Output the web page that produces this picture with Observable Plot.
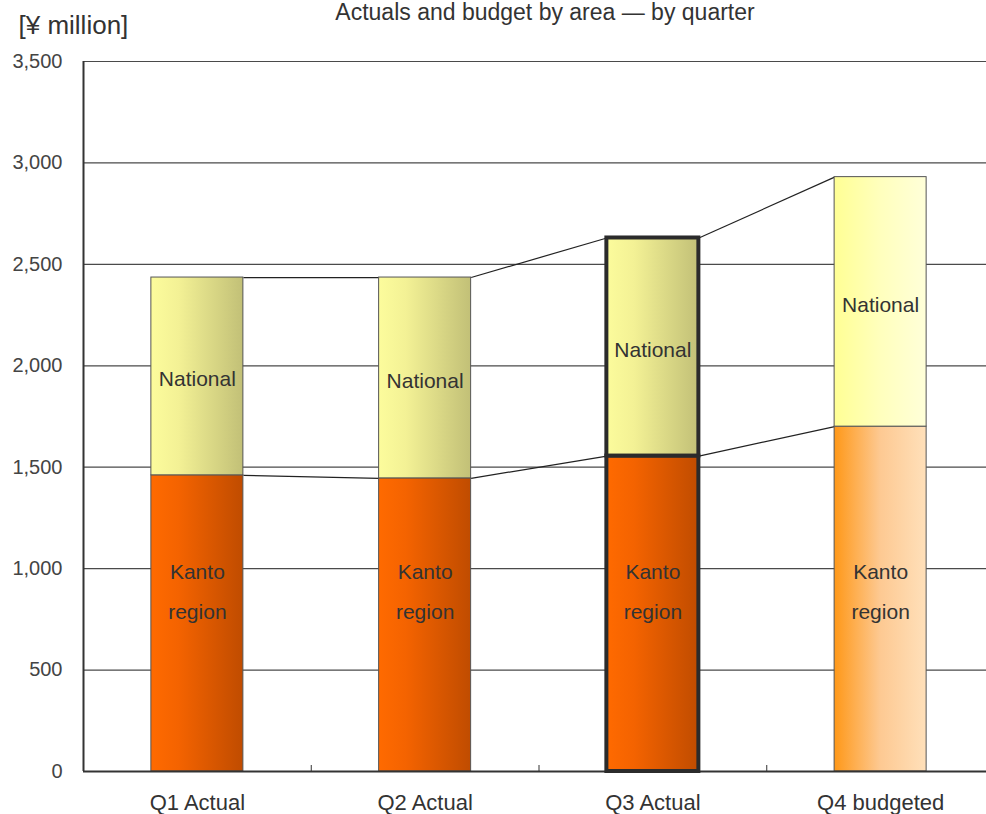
<!DOCTYPE html>
<html><head><meta charset="utf-8">
<script src="https://cdn.jsdelivr.net/npm/d3@7"></script>
<script src="https://cdn.jsdelivr.net/npm/@observablehq/plot@0.6"></script>
<style>body{margin:0;background:#fff} svg{display:block}</style>
</head><body><div id="chart"></div>
<script>
// ---- data ----
const quarters = ["Q1 Actual", "Q2 Actual", "Q3 Actual", "Q4 budgeted"];
const kanto = [1460, 1445, 1555, 1700];
const national = [975, 990, 1075, 1230];
const kantoLabel = "Kanto\nregion";
const nationalLabel = "National";
const yTicks = [0, 500, 1000, 1500, 2000, 2500, 3000, 3500];
const highlighted = "Q3 Actual";
const budgeted = "Q4 budgeted";
const title = "Actuals and budget by area — by quarter";
const unit = "[¥ million]";

// ---- derived ----
const bw = 0.404;
const idx = quarters.map((q, i) => i);
const total = kanto.map((k, i) => k + national[i]);
const rows = quarters.flatMap((q, i) => {
  const kind = q === budgeted ? "b" : "a";
  return [
    {i, q, s: "kanto", y1: 0, y2: kanto[i], fill: `url(#kanto-${kind})`},
    {i, q, s: "national", y1: kanto[i], y2: total[i], fill: `url(#national-${kind})`}
  ];
});
const font = "'Liberation Sans', Arial, Helvetica, sans-serif";
const ink = "#333";

const chart = Plot.plot({
  width: 986, height: 814,
  marginTop: 61, marginBottom: 43, marginLeft: 83, marginRight: 0,
  style: {fontFamily: font, background: "#fff", overflow: "hidden"},
  x: {domain: [-0.5, 3.5], range: [83, 994]},
  y: {domain: [0, 3500]},
  color: {type: "identity"},
  marks: [
    Plot.ruleY(yTicks.filter(d => d > 0), {stroke: "#4a4a4a", strokeWidth: 1.2}),
    Plot.axisY({ticks: yTicks, tickSize: 0, tickPadding: 21, tickFormat: d3.format(","), fontSize: 20, fill: "#444", label: null}),
    Plot.ruleX([-0.5], {stroke: ink, strokeWidth: 2}),
    Plot.link(idx.slice(0, -1), {x1: i => i + bw / 2, x2: i => i + 1 - bw / 2, y1: i => total[i], y2: i => total[i + 1], stroke: "#222", strokeWidth: 1.2}),
    Plot.link(idx.slice(0, -1), {x1: i => i + bw / 2, x2: i => i + 1 - bw / 2, y1: i => kanto[i], y2: i => kanto[i + 1], stroke: "#222", strokeWidth: 1.2}),
    Plot.rectY(rows.filter(d => d.q !== highlighted), {x1: d => d.i - bw / 2, x2: d => d.i + bw / 2, y1: "y1", y2: "y2", fill: "fill", stroke: "#555", strokeWidth: 1}),
    Plot.ruleY([0], {stroke: ink, strokeWidth: 2.2}),
    Plot.rectY(rows.filter(d => d.q === highlighted), {x1: d => d.i - bw / 2, x2: d => d.i + bw / 2, y1: "y1", y2: "y2", fill: "fill", stroke: "#2b2b2b", strokeWidth: 4}),
    Plot.axisX({ticks: idx, tickFormat: i => quarters[i], tickSize: 0, tickPadding: 23, fontSize: 22, fill: ink, label: null}),
    Plot.axisX({ticks: idx.slice(0, -1).map(i => i + 0.5), tickSize: -6, tickFormat: () => "", stroke: ink, label: null}),
    Plot.text(idx, {x: i => i, y: i => kanto[i] + national[i] / 2, text: () => nationalLabel, dy: 3, fontSize: 21, fill: ink}),
    Plot.text(idx, {x: i => i, frameAnchor: "bottom", dy: -153, text: () => kantoLabel, lineHeight: 1.86, fontSize: 21, fill: ink}),
    Plot.text([title], {text: d => d, frameAnchor: "top", dx: 10, dy: -58, fontSize: 23, fill: ink}),
    Plot.text([unit], {text: d => d, frameAnchor: "top-left", textAnchor: "start", dx: -65, dy: -46, fontSize: 26, fill: ink})
  ]
});

const svg = d3.select(chart);
const defs = svg.insert("defs", ":first-child");
function grad(id, stops) {
  const g = defs.append("linearGradient").attr("id", id).attr("x1", 0).attr("x2", 1).attr("y1", 0).attr("y2", 0);
  stops.forEach(([o, c]) => g.append("stop").attr("offset", o).attr("stop-color", c));
}
grad("kanto-a", [[0, "#ff6a00"], [0.3, "#f46300"], [1, "#c04c00"]]);
grad("national-a", [[0, "#fcfc9c"], [0.3, "#f3f195"], [1, "#c2c077"]]);
grad("kanto-b", [[0, "#ff9818"], [0.5, "#fdc992"], [1, "#ffe0ba"]]);
grad("national-b", [[0, "#ffff94"], [0.5, "#ffffbd"], [1, "#ffffd9"]]);

document.getElementById("chart").append(chart);
</script>
</body></html>
